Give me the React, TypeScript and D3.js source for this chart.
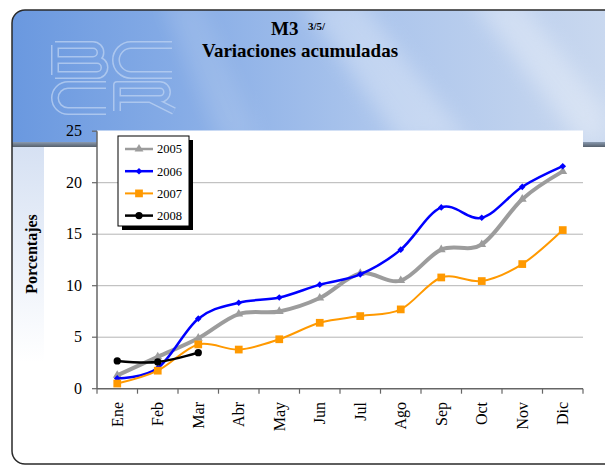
import React from "react";
import * as d3 from "d3";

const months = ["Ene", "Feb", "Mar", "Abr", "May", "Jun", "Jul", "Ago", "Sep", "Oct", "Nov", "Dic"];
const s2005 = [1.3, 3.1, 4.9, 7.25, 7.5, 8.8, 11.2, 10.5, 13.5, 14.0, 18.4, 21.1];
const s2006 = [1.0, 2.0, 6.8, 8.35, 8.85, 10.1, 11.1, 13.5, 17.6, 16.6, 19.6, 21.6];
const s2007 = [0.5, 1.75, 4.3, 3.8, 4.8, 6.4, 7.05, 7.7, 10.8, 10.45, 12.1, 15.4];
const s2008 = [2.7, 2.6, 3.5];
const yTicks = [0, 5, 10, 15, 20, 25];
const gridTicks = [5, 10, 15, 20];
const seriesNames = ["2005", "2006", "2007", "2008"];

const FONT = "'Liberation Serif', 'Times New Roman', serif";

type Series = { name: string; values: number[]; color: string; width: number; symbol: d3.SymbolType; size: number; rotate: number };

const series: Series[] = [
  { name: seriesNames[0], values: s2005, color: "#9c9c9c", width: 4, symbol: d3.symbolTriangle, size: 34, rotate: 0 },
  { name: seriesNames[1], values: s2006, color: "#0000ff", width: 2.5, symbol: d3.symbolSquare, size: 22, rotate: 45 },
  { name: seriesNames[2], values: s2007, color: "#ff9900", width: 2, symbol: d3.symbolSquare, size: 60, rotate: 0 },
  { name: seriesNames[3], values: s2008, color: "#000000", width: 2.5, symbol: d3.symbolCircle, size: 42, rotate: 0 },
];

// decorative watermark letter strokes (logo image in the background)
const logoStrokes =
  "M55,45 V75 M55,45 H93 A7.5,7.5 0 0 1 93,60 H55 M55,60 H97 A7.5,7.5 0 0 1 97,75 H55 " +
  "M172,45 H131 A15,15 0 0 0 131,75 H172 " +
  "M106,85 H68 A13,13 0 0 0 68,111 H106 " +
  "M117,111 V85 H160 A7,7 0 0 1 160,99 H117 M150,99 L174,111";

export default function App() {
  const W = 605, H = 465;
  const x = d3.scaleBand<string>().domain(months).range([97, 583]).padding(0);
  const y = d3.scaleLinear().domain([0, 25]).range([388.7, 131.2]);
  const cx = (i: number) => (x(months[i]) as number) + x.bandwidth() / 2;

  const line = d3
    .line<number>()
    .x((_, i) => cx(i))
    .y((d) => y(d))
    .curve(d3.curveCardinal.tension(0));

  const boundaries = months.map((m) => x(m) as number).concat([583]);

  return (
    <svg width={W} height={H} style={{ position: "absolute", left: 0, top: 0 }} viewBox={`0 0 ${W} ${H}`}>
      <defs>
        <linearGradient id="band" x1="0" y1="0" x2="1" y2="0">
          <stop offset="0" stopColor="#6897df" />
          <stop offset="0.3" stopColor="#86ace6" />
          <stop offset="0.6" stopColor="#aac4ec" />
          <stop offset="1" stopColor="#c9d8ef" />
        </linearGradient>
        <linearGradient id="bar" x1="0" y1="0" x2="0" y2="1">
          <stop offset="0" stopColor="#8a9ab0" />
          <stop offset="1" stopColor="#55606c" />
        </linearGradient>
        <linearGradient id="leftStrip" x1="0" y1="0" x2="0" y2="1">
          <stop offset="0" stopColor="#d6e1f3" />
          <stop offset="1" stopColor="#ffffff" />
        </linearGradient>
        <filter id="blur" x="-50%" y="-50%" width="200%" height="200%">
          <feGaussianBlur stdDeviation="10" />
        </filter>
        <clipPath id="frame">
          <rect x={12} y={10} width={640} height={454} rx={13} />
        </clipPath>
        <mask id="logoMask" maskUnits="userSpaceOnUse" x={0} y={0} width={W} height={H}>
          <rect x={0} y={0} width={W} height={H} fill="#000" />
          <path d={logoStrokes} fill="none" stroke="#fff" strokeWidth={8} strokeLinejoin="round" />
          <path d={logoStrokes} fill="none" stroke="#000" strokeWidth={5} strokeLinejoin="round" />
        </mask>
      </defs>

      <rect x={12} y={10} width={640} height={454} rx={13} fill="#ffffff" />
      <g clipPath="url(#frame)">
        <rect x={0} y={0} width={W} height={142} fill="url(#band)" />
        <path d="M300,0 L360,0 L470,142 L400,142 Z" fill="#ffffff" opacity={0.28} filter="url(#blur)" />
        <path d="M470,0 L520,0 L605,110 L605,142 L580,142 Z" fill="#ffffff" opacity={0.3} filter="url(#blur)" />
        <path d="M160,0 L200,0 L260,142 L220,142 Z" fill="#ffffff" opacity={0.12} filter="url(#blur)" />
        <rect x={0} y={142} width={W} height={5} fill="url(#bar)" />
        <rect x={12} y={147} width={32} height={215} fill="url(#leftStrip)" />
        <rect x={40} y={35} width={150} height={85} fill="#bcd2f2" opacity={0.75} mask="url(#logoMask)" />
      </g>
      <rect x={12} y={10} width={640} height={454} rx={13} fill="none" stroke="#2a2a2a" strokeWidth={1.5} />

      {/* plot area */}
      <rect x={97} y={130.5} width={486} height={258.2} fill="#ffffff" />

      {/* title */}
      <g fontFamily={FONT} fontWeight="bold" fill="#000">
        <text x={271} y={35} fontSize={19}>M3</text>
        <text x={308} y={30} fontSize={11}>3/5/</text>
        <text x={300} y={57} fontSize={19} textAnchor="middle">Variaciones acumuladas</text>
      </g>

      {/* gridlines */}
      {gridTicks.map((t) => (
        <line key={t} x1={97} x2={583} y1={y(t)} y2={y(t)} stroke="#b4b4b4" strokeWidth={1} />
      ))}

      {/* y axis */}
      <line x1={97} x2={97} y1={y(25)} y2={y(0)} stroke="#666" strokeWidth={1.5} />
      {yTicks.map((t) => (
        <g key={t}>
          <line x1={92} x2={97} y1={y(t)} y2={y(t)} stroke="#666" strokeWidth={1.2} />
          <text x={82} y={y(t)} dy="0.33em" textAnchor="end" fontFamily={FONT} fontSize={16} fill="#000">{t}</text>
        </g>
      ))}
      <text transform={`translate(36.5,254) rotate(-90)`} textAnchor="middle" fontFamily={FONT} fontWeight="bold" fontSize={16} fill="#000">Porcentajes</text>

      {/* x axis */}
      <line x1={97} x2={583} y1={y(0)} y2={y(0)} stroke="#666" strokeWidth={1.5} />
      {boundaries.map((b, i) => (
        <line key={i} x1={b} x2={b} y1={y(0)} y2={y(0) + 5} stroke="#666" strokeWidth={1.2} />
      ))}
      {months.map((m, i) => (
        <text key={m} transform={`translate(${cx(i)},402) rotate(-90)`} dy="0.33em" textAnchor="end" fontFamily={FONT} fontSize={16} fill="#000">{m}</text>
      ))}

      {/* series */}
      {series.map((s) => (
        <g key={s.name}>
          <path d={line(s.values) || ""} fill="none" stroke={s.color} strokeWidth={s.width} strokeLinejoin="round" />
          {s.values.map((v, i) => (
            <path
              key={i}
              d={d3.symbol().type(s.symbol).size(s.size)() || ""}
              transform={`translate(${cx(i)},${y(v)}) rotate(${s.rotate})`}
              fill={s.color}
            />
          ))}
        </g>
      ))}

      {/* legend */}
      <rect x={122} y={140} width={71} height={90} fill="#000" />
      <rect x={118} y={136} width={71} height={90} fill="#fff" stroke="#000" strokeWidth={1} />
      {series.map((s, i) => {
        const ly = 149 + i * 22.2;
        return (
          <g key={s.name}>
            <line x1={125} x2={153} y1={ly} y2={ly} stroke={s.color} strokeWidth={Math.min(s.width, 2.5)} />
            <path d={d3.symbol().type(s.symbol).size(s.size)() || ""} transform={`translate(139,${ly}) rotate(${s.rotate})`} fill={s.color} />
            <text x={157} y={ly} dy="0.35em" fontFamily={FONT} fontSize={12.5} fill="#000">{s.name}</text>
          </g>
        );
      })}
    </svg>
  );
}
